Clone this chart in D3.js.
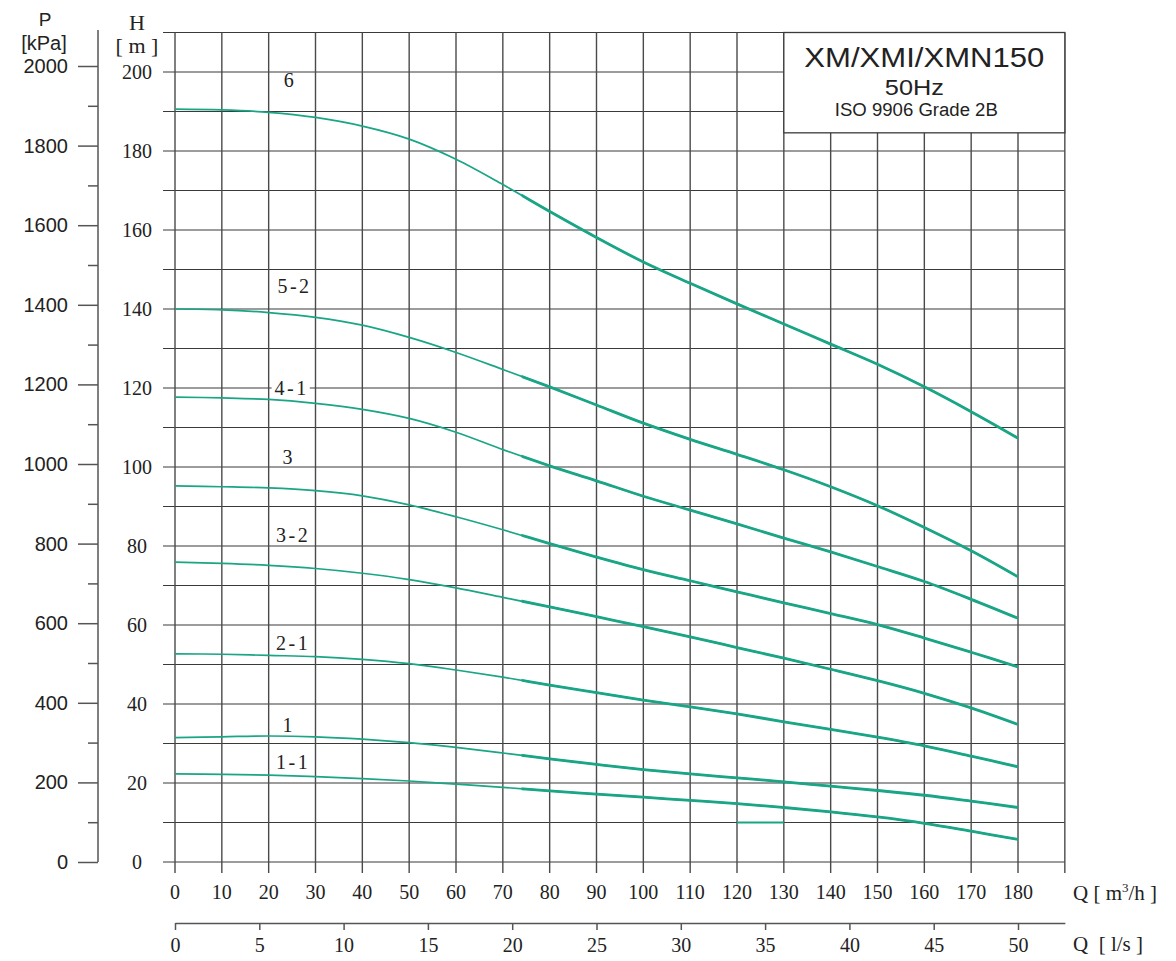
<!DOCTYPE html>
<html>
<head>
<meta charset="utf-8">
<script src="https://cdn.jsdelivr.net/npm/d3@7/dist/d3.min.js"></script>
<style>
  html, body { margin: 0; padding: 0; background: #fff; }
  svg { display: block; }
</style>
</head>
<body>
<svg id="chart" width="1176" height="961"></svg>
<script>
// ---------------- DATA ----------------
const flowQ = [0, 10, 20, 30, 40, 50, 60, 70, 80, 90, 100, 110, 120, 130, 140, 150, 160, 170, 180];
const head6   = [190.6, 190.4, 189.8, 188.5, 186.3, 183.0, 177.9, 171.5, 164.7, 158.1, 151.9, 146.5, 141.3, 136.2, 131.1, 126.0, 120.3, 114.0, 107.3];
const head5_2 = [140.0, 139.8, 139.1, 137.9, 135.9, 132.8, 129.0, 124.7, 120.3, 115.7, 111.1, 107.0, 103.2, 99.3, 95.0, 90.2, 84.7, 78.8, 72.2];
const head4_1 = [117.7, 117.5, 117.1, 116.1, 114.6, 112.3, 108.8, 104.4, 100.3, 96.5, 92.6, 89.1, 85.6, 82.0, 78.5, 74.8, 71.0, 66.5, 61.7];
const head3   = [95.2, 95.0, 94.7, 94.0, 92.7, 90.4, 87.4, 84.1, 80.6, 77.2, 74.0, 71.2, 68.4, 65.6, 62.9, 60.1, 56.7, 53.1, 49.4];
const head3_2 = [75.9, 75.6, 75.1, 74.3, 73.1, 71.5, 69.4, 67.0, 64.6, 62.1, 59.6, 57.0, 54.3, 51.6, 48.8, 45.9, 42.7, 39.0, 34.8];
const head2_1 = [52.7, 52.6, 52.3, 52.0, 51.3, 50.2, 48.6, 46.8, 44.8, 42.9, 41.0, 39.3, 37.5, 35.5, 33.6, 31.6, 29.4, 26.8, 24.1];
const head1   = [31.5, 31.7, 31.9, 31.7, 31.1, 30.2, 29.0, 27.6, 26.1, 24.7, 23.4, 22.3, 21.3, 20.3, 19.2, 18.1, 16.9, 15.4, 13.8];
const head1_1 = [22.3, 22.2, 22.0, 21.6, 21.1, 20.5, 19.7, 18.9, 18.0, 17.2, 16.4, 15.6, 14.8, 13.8, 12.7, 11.4, 9.8, 7.8, 5.7];

const curveNames = ["6", "5-2", "4-1", "3", "3-2", "2-1", "1", "1-1"];
const curveHeads = [head6, head5_2, head4_1, head3, head3_2, head2_1, head1, head1_1];
const labelQ = [24.3, 25.3, 24.7, 24, 25, 25, 24, 25];
const labelH = [198, 145.8, 120, 102.5, 82.8, 55.4, 34.7, 25.3];

// short stray segment at H = 10
const strayQ = [120, 130];
const strayH = [10, 10];

const qTicks = [0, 10, 20, 30, 40, 50, 60, 70, 80, 90, 100, 110, 120, 130, 140, 150, 160, 170, 180];
const hTicks = [0, 20, 40, 60, 80, 100, 120, 140, 160, 180, 200];
const pTicks = [0, 200, 400, 600, 800, 1000, 1200, 1400, 1600, 1800, 2000];
const pMinor = [100, 300, 500, 700, 900, 1100, 1300, 1500, 1700, 1900];
const lsTicks = [0, 5, 10, 15, 20, 25, 30, 35, 40, 45, 50];

const titleLines = ["XM/XMI/XMN150", "50Hz", "ISO 9906 Grade 2B"];

// ---------------- SCALES ----------------
const svg = d3.select("#chart");
const x = d3.scaleLinear().domain([0, 180]).range([175, 1018]);
const y = d3.scaleLinear().domain([0, 200]).range([862, 72]);
const p = d3.scaleLinear().domain([0, 2000]).range([862, 66]);
const qls = d3.scaleLinear().domain([0, 50]).range([175, 1018]);

const SERIF = "'Liberation Serif', 'Times New Roman', serif";
const SANS = "'Liberation Sans', Arial, sans-serif";
const TEAL = "#19a586";
const GRID = "#3a3a3a";

const xL = x(0) - 12, xR = x(190);
const yTop = y(210), yBot = y(0);

// ---------------- GRID ----------------
const grid = svg.append("g");
grid.selectAll("line.h").data(d3.range(0, 211, 10)).join("line")
  .attr("x1", xL).attr("x2", xR)
  .attr("y1", d => y(d)).attr("y2", d => y(d))
  .attr("stroke", GRID).attr("stroke-width", 1.2);
grid.selectAll("line.v").data(d3.range(0, 191, 10)).join("line")
  .attr("x1", d => x(d)).attr("x2", d => x(d))
  .attr("y1", yTop).attr("y2", yBot + 11)
  .attr("stroke", "#4a4a4a").attr("stroke-width", 1.4);

// title box
const boxX0 = x(130), boxY0 = yTop, boxY1 = y(184.6);
svg.append("rect")
  .attr("x", boxX0).attr("y", boxY0)
  .attr("width", xR - boxX0).attr("height", boxY1 - boxY0)
  .attr("fill", "#fff").attr("stroke", GRID).attr("stroke-width", 1.3);
const tcx = (boxX0 + xR) / 2;
svg.append("text").attr("x", tcx).attr("y", 67)
  .attr("text-anchor", "middle").attr("font-family", SANS).attr("font-size", 27)
  .attr("fill", "#222").attr("textLength", 240).attr("lengthAdjust", "spacingAndGlyphs")
  .text(titleLines[0]);
svg.append("text").attr("x", tcx - 10).attr("y", 95)
  .attr("text-anchor", "middle").attr("font-family", SANS).attr("font-size", 22)
  .attr("fill", "#222").attr("textLength", 59).attr("lengthAdjust", "spacingAndGlyphs")
  .text(titleLines[1]);
svg.append("text").attr("x", tcx - 8).attr("y", 116)
  .attr("text-anchor", "middle").attr("font-family", SANS).attr("font-size", 18)
  .attr("fill", "#222").attr("textLength", 163).attr("lengthAdjust", "spacingAndGlyphs")
  .text(titleLines[2]);

// ---------------- CURVES ----------------
const line = d3.line().x(d => x(d[0])).y(d => y(d[1])).curve(d3.curveCatmullRom.alpha(0.5));
svg.append("defs").append("clipPath").attr("id", "thick")
  .append("rect").attr("x", x(74)).attr("y", 0).attr("width", 1176).attr("height", 961);

const curves = svg.append("g");
curveHeads.forEach((h) => {
  const pts = flowQ.map((q, i) => [q, h[i]]);
  curves.append("path").attr("d", line(pts))
    .attr("fill", "none").attr("stroke", TEAL).attr("stroke-width", 1.7);
  curves.append("path").attr("d", line(pts)).attr("clip-path", "url(#thick)")
    .attr("fill", "none").attr("stroke", TEAL).attr("stroke-width", 2.8);
});
curves.append("path").attr("d", line(strayQ.map((q, i) => [q, strayH[i]])))
  .attr("fill", "none").attr("stroke", TEAL).attr("stroke-width", 2);

// curve labels
const labels = svg.append("g");
curveNames.forEach((n, i) => {
  const t = labels.append("text")
    .attr("x", x(labelQ[i]) + (n.length > 1 ? 1 : 0)).attr("y", y(labelH[i]))
    .attr("text-anchor", "middle").attr("dominant-baseline", "central")
    .attr("font-family", SERIF).attr("font-size", 20).attr("fill", "#222")
    .attr("letter-spacing", n.length > 1 ? 2.5 : 0)
    .text(n);
  if (i === 2) {
    const bb = t.node().getBBox();
    labels.insert("rect", "text")
      .attr("x", bb.x - 3).attr("y", bb.y + 3).attr("width", bb.width + 4).attr("height", bb.height - 6)
      .attr("fill", "#fff");
  }
});

// ---------------- H AXIS LABELS ----------------
svg.append("g").selectAll("text").data(hTicks).join("text")
  .attr("x", 137).attr("y", d => y(d)).attr("dy", "0.35em")
  .attr("text-anchor", "middle").attr("font-family", SERIF).attr("font-size", 20).attr("fill", "#222")
  .text(d => d);
svg.append("text").attr("x", 137).attr("y", 30).attr("text-anchor", "middle")
  .attr("font-family", SERIF).attr("font-size", 22).attr("fill", "#222").text("H");
svg.append("text").attr("x", 137).attr("y", 53).attr("text-anchor", "middle")
  .attr("font-family", SERIF).attr("font-size", 22).attr("fill", "#222").text("[ m ]");

// ---------------- P AXIS ----------------
const pAxisX = 98;
svg.append("line").attr("x1", pAxisX).attr("x2", pAxisX).attr("y1", 30).attr("y2", p(0))
  .attr("stroke", "#555").attr("stroke-width", 1.5);
const pMaj = svg.append("g").attr("transform", `translate(${pAxisX},0)`)
  .call(d3.axisLeft(p).tickValues(pTicks).tickSize(20).tickPadding(10).tickFormat(d => d));
pMaj.select(".domain").remove();
pMaj.selectAll(".tick line").attr("stroke", "#555").attr("stroke-width", 1.5);
pMaj.selectAll(".tick text").attr("font-family", SANS).attr("font-size", 20).attr("fill", "#222");
const pMin = svg.append("g").attr("transform", `translate(${pAxisX},0)`)
  .call(d3.axisLeft(p).tickValues(pMinor).tickSize(10).tickFormat(""));
pMin.select(".domain").remove();
pMin.selectAll(".tick line").attr("stroke", "#555").attr("stroke-width", 1.5);
svg.append("text").attr("x", 45).attr("y", 26).attr("text-anchor", "middle")
  .attr("font-family", SANS).attr("font-size", 19).attr("fill", "#222").text("P");
svg.append("text").attr("x", 44).attr("y", 50).attr("text-anchor", "middle")
  .attr("font-family", SANS).attr("font-size", 20).attr("fill", "#222").text("[kPa]");

// ---------------- Q AXES ----------------
svg.append("g").selectAll("text").data(qTicks).join("text")
  .attr("x", d => x(d)).attr("y", 899)
  .attr("text-anchor", "middle").attr("font-family", SERIF).attr("font-size", 20).attr("fill", "#222")
  .text(d => d);
const qt = svg.append("text").attr("x", 1073).attr("y", 900)
  .attr("font-family", SERIF).attr("font-size", 21).attr("fill", "#222");
qt.append("tspan").text("Q  [ m");
qt.append("tspan").attr("font-size", 13).attr("dy", -8).text("3");
qt.append("tspan").attr("dy", 8).text("/h ]");

const lsAxis = svg.append("g").attr("transform", "translate(0,923)")
  .call(d3.axisBottom(d3.scaleLinear().domain([0, qls.invert(xR)]).range([175, xR]))
    .tickValues(lsTicks).tickSize(7).tickSizeOuter(0).tickPadding(8).tickFormat(d => d));
lsAxis.select(".domain").attr("stroke", "#555").attr("stroke-width", 1.5);
lsAxis.selectAll(".tick line").attr("stroke", "#555").attr("stroke-width", 1.5);
lsAxis.selectAll(".tick text").attr("font-family", SERIF).attr("font-size", 20).attr("fill", "#222");
svg.append("text").attr("x", 1073).attr("y", 951)
  .attr("font-family", SERIF).attr("font-size", 21).attr("fill", "#222")
  .attr("xml:space", "preserve").text("Q  [ l/s ]");
</script>
</body>
</html>
